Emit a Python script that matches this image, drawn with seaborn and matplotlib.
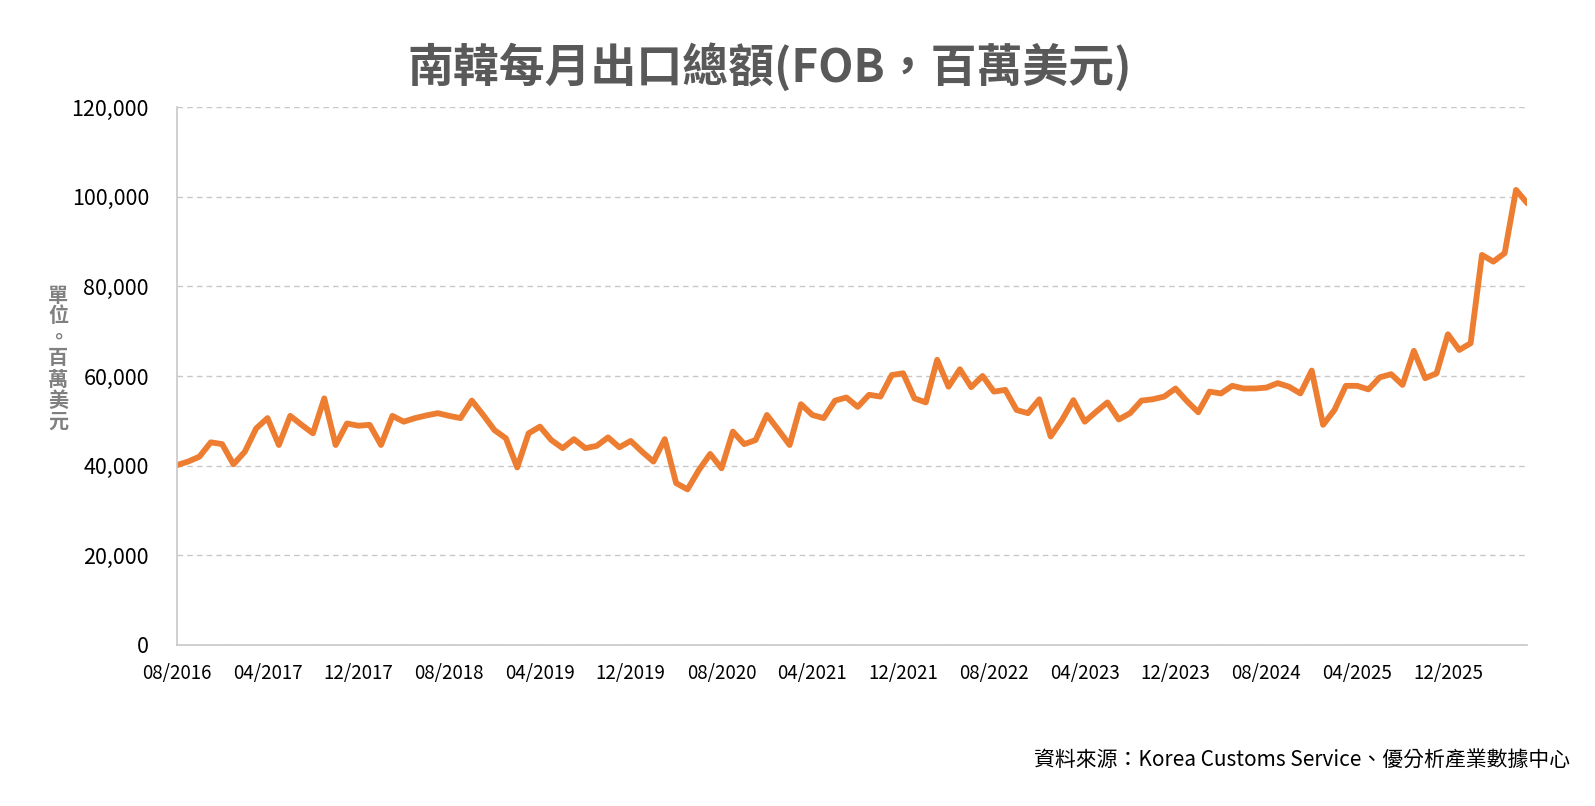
import pandas as pd
import matplotlib.pyplot as plt
import matplotlib.ticker as mticker
import seaborn as sns

# South Korea monthly exports, FOB, million USD
start_month = "2016-08"
exports = [
    40100, 40900, 42000, 45200, 44800, 40300, 43100, 48300, 50600, 44600,
    51100, 49100, 47200, 55000, 44600, 49400, 48900, 49100, 44600, 51100,
    49800, 50600, 51200, 51700, 51100, 50600, 54500, 51300, 47900, 46100,
    39600, 47200, 48700, 45700, 43900, 45900, 43900, 44400, 46300, 44100,
    45500, 43100, 40900, 45900, 36100, 34700, 39000, 42600, 39400, 47600,
    44800, 45700, 51300, 48000, 44600, 53700, 51300, 50600, 54500, 55200,
    53100, 55800, 55400, 60200, 60600, 55000, 54100, 63600, 57600, 61500,
    57500, 60000, 56500, 56900, 52400, 51700, 54800, 46500, 50200, 54600,
    49800, 52000, 54100, 50300, 51700, 54500, 54800, 55400, 57200, 54400,
    51900, 56500, 56100, 57800, 57200, 57200, 57400, 58400, 57600, 56100,
    61200, 49100, 52400, 57800, 57800, 57000, 59700, 60400, 58000, 65600,
    59500, 60600, 69300, 65800, 67300, 87000, 85500, 87400, 101500, 98500,
]
y_ticks = [0, 20000, 40000, 60000, 80000, 100000, 120000]
label_every = 8

months = pd.date_range(start_month, periods=len(exports), freq="MS")
month_labels = list(months.strftime("%m/%Y"))

df = pd.DataFrame({"idx": range(len(exports)), "month": month_labels, "exports": exports})

sns.set_theme(style="white")
plt.rcParams['font.family'] = ['Noto Sans CJK TC', 'DejaVu Sans']

fig = plt.figure(figsize=(15.95, 8.06), dpi=100)
ax = fig.add_axes([0.1108, 0.1998, 0.8468, 0.6675])

sns.lineplot(data=df, x="idx", y="exports", color="#ED7D31", linewidth=4.2, ax=ax)

ax.set_xlim(0, len(exports) - 1)
ax.set_ylim(y_ticks[0], y_ticks[-1])
ax.set_yticks(y_ticks)
ax.yaxis.set_major_formatter(mticker.FuncFormatter(lambda v, p: f"{int(v):,}"))
ax.set_xticks(range(0, len(exports), label_every))
ax.set_xticklabels(month_labels[::label_every], fontweight="medium")
ax.set_xticks(range(len(exports)), minor=True)
ax.set_xlabel("")
ax.set_ylabel("")

ax.yaxis.grid(True, linestyle=(0, (4, 3)), color="#c8c8c8", linewidth=1)
ax.tick_params(axis="y", length=0, pad=20, labelsize=15.5, labelcolor="black")
ax.tick_params(axis="x", which="both", direction="in", length=4, width=1,
               color="#bfbfbf", pad=13, labelsize=13.5, labelcolor="black")

for side in ["top", "right"]:
    ax.spines[side].set_visible(False)
for side in ["left", "bottom"]:
    ax.spines[side].set_color("#c8c8c8")
    ax.spines[side].set_linewidth(1.2)

fig.text(770 / 1595, 1 - 67 / 806, "南韓每月出口總額(FOB，百萬美元)", ha="center", va="center",
         fontsize=33, fontweight="bold", color="#595959")
fig.text(58 / 1595, 1 - 358 / 806, "\n".join("單位。百萬美元"), ha="center", va="center",
         fontsize=14.5, fontweight="bold", color="#808080", linespacing=1.0)
fig.text(1570 / 1595, 1 - 760 / 806, "資料來源：Korea Customs Service、優分析產業數據中心",
         ha="right", va="center", fontsize=15.0, color="black")

fig.savefig("out.png", dpi=100)
